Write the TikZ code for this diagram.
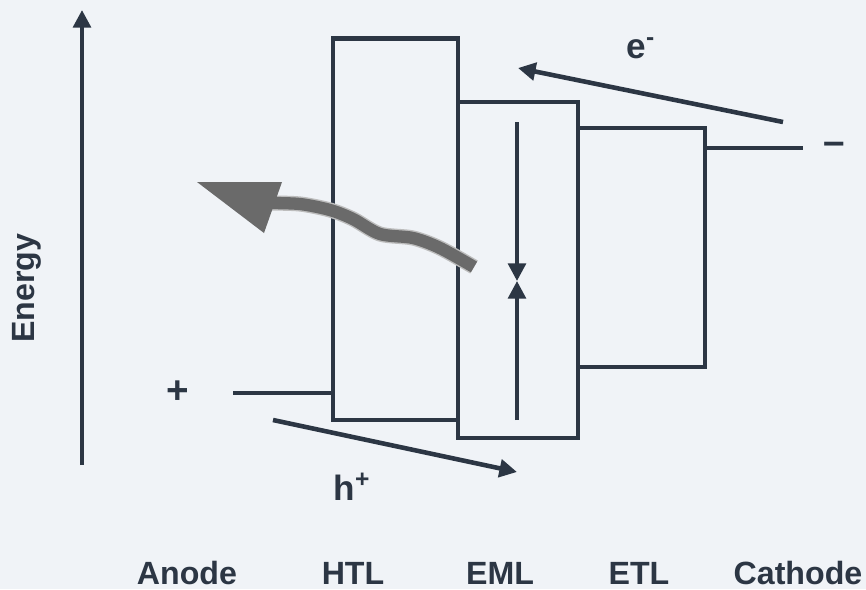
\documentclass[tikz,border=0pt]{standalone}
\usepackage{fontspec}
\setmainfont{Liberation Sans}
\usetikzlibrary{calc,arrows.meta}
\definecolor{oledline}{HTML}{2C3644}
\definecolor{oledback}{HTML}{F0F3F7}
\definecolor{oledphoton}{HTML}{6A6A6A}
\definecolor{oledglow}{HTML}{BDBDBD}

\begin{document}
\begin{tikzpicture}[x=0.02cm, y=-0.02cm,
    layer/.style={draw=oledline, line width=2.8pt, inner sep=0pt, outer sep=0pt},
    level/.style={draw=oledline, line width=2.8pt},
    flow/.style={draw=oledline, line width=2.6pt, -{Triangle[length=10pt, width=10pt]}},
    lbl/.style={text=oledline, font=\fontsize{18.3}{22}\selectfont\bfseries, inner sep=0pt},
    carrier/.style={text=oledline, font=\fontsize{20}{24}\selectfont\bfseries, inner sep=0pt},
    sign/.style={text=oledline, font=\fontsize{22}{26}\selectfont\bfseries, inner sep=0pt}]
  \fill[oledback] (0,0) rectangle (866,589);

  \node[layer, minimum width=2.5cm, minimum height=7.64cm] (htl) at (395.5,229) {};
  \node[layer, minimum width=2.4cm, minimum height=6.72cm] (eml) at (518,270) {};
  \node[layer, minimum width=2.54cm, minimum height=4.78cm] (etl) at (641.5,247.5) {};

  \coordinate (anode) at (233,393);
  \coordinate (cathode) at (803,148);
  \draw[level] (anode) -- (anode -| htl.west);
  \draw[level] (etl.east |- cathode) -- (cathode);
  \node[sign] (plus) at (178,392) {+};
  \node[sign] (minus) at (834,148) {–};

  \coordinate (ebot) at (82,465);
  \coordinate (etop) at (82,10);
  \draw[flow, line width=2.3pt] (ebot) -- (etop);
  \node[lbl, rotate=90, anchor=base] (energy) at (34,288) {Energy};

  \coordinate (efrom) at (783,122);
  \coordinate (eto) at (518,68);
  \draw[flow] (efrom) -- (eto);
  \node[carrier] (elec) at (641,48) {e\textsuperscript{-}};

  \coordinate (hfrom) at (273,420);
  \coordinate (hto) at (517,472);
  \draw[flow] (hfrom) -- (hto);
  \node[carrier] (hole) at (352,487) {h\textsuperscript{+}};

  \coordinate (emltop) at (517,122);
  \coordinate (emlmid) at (517,281);
  \coordinate (emlbot) at (517,420);
  \draw[flow, line width=2.2pt] (emltop) -- (emlmid);
  \draw[flow, line width=2.2pt] (emlbot) -- (emlmid);

  \draw[oledglow, line width=8.6pt] plot[smooth] coordinates {(474,267) (440,248) (413,238) (380,234) (353,219) (330,210) (300,204) (268,203)};
  \draw[oledphoton, line width=7pt] plot[smooth] coordinates {(474,267) (440,248) (413,238) (380,234) (353,219) (330,210) (300,204) (268,203)};
  \fill[oledphoton] (197,182) -- (282,182) -- (264,233) -- cycle;

  \node[lbl, anchor=base] (anodelbl) at (187,584) {Anode};
  \node[lbl, anchor=base] (htllbl) at (353,584) {HTL};
  \node[lbl, anchor=base] (emllbl) at (500,584) {EML};
  \node[lbl, anchor=base] (etllbl) at (639,584) {ETL};
  \node[lbl, anchor=base] (cathodelbl) at (798,584) {Cathode};
\end{tikzpicture}
\end{document}
